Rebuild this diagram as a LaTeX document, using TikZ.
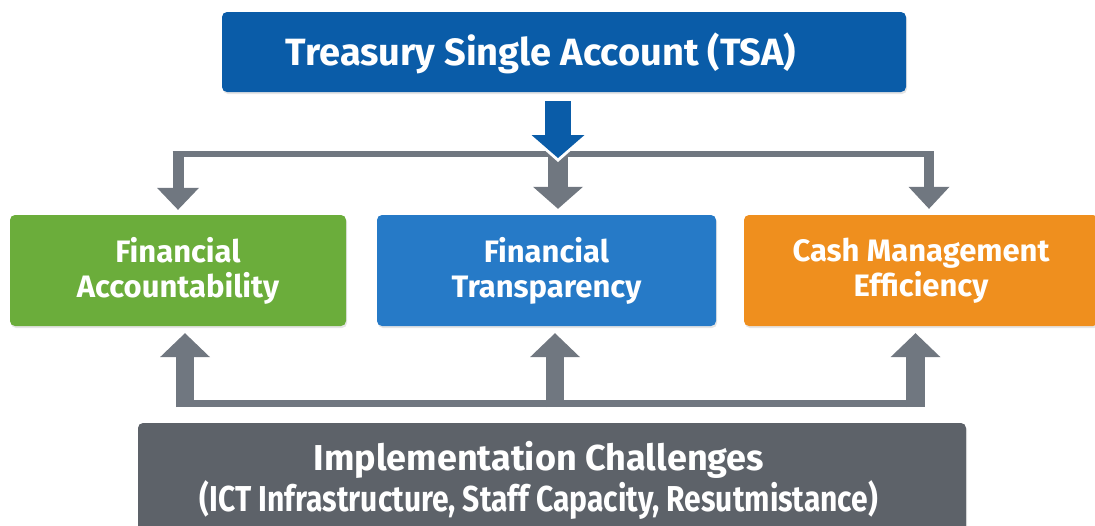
\documentclass[tikz,border=0pt]{standalone}
\usepackage{fontspec}
\setmainfont{Fira Sans}
\newfontfamily\narrowfont[FakeStretch=0.834]{Fira Sans}
\usetikzlibrary{arrows.meta,shadows}

\definecolor{tsablue}{RGB}{10,92,168}
\definecolor{skyblue}{RGB}{38,122,199}
\definecolor{leafgreen}{RGB}{107,173,59}
\definecolor{amber}{RGB}{239,143,30}
\definecolor{slate}{RGB}{93,98,105}
\definecolor{linkgray}{RGB}{112,119,128}

\tikzset{
  box/.style={rectangle, rounded corners=5pt, inner sep=0pt, text=white,
    font=\bfseries\fontsize{31}{35}\selectfont, align=center,
    drop shadow={opacity=0.2, shadow xshift=1pt, shadow yshift=-2pt}},
  title/.style={text=white, inner sep=0pt, align=center,
    font=\bfseries\fontsize{38}{44}\selectfont},
  bar/.style={draw=linkgray, line width=#1},
  feed/.style 2 args={draw=linkgray, line width=#1,
    -{Triangle[width=#2, length=22pt, line width=0pt]}},
  rise/.style={draw=linkgray, line width=#1,
    -{Triangle[width=50pt, length=24pt, line width=0pt]}},
  lead/.style={draw=tsablue, line width=26pt,
    -{Triangle[width=53pt, length=23pt, line width=0pt]}},
  halo/.style={draw=white, line width=30pt,
    -{Triangle[width=61pt, length=27pt, line width=0pt]}}
}

\begin{document}
\begin{tikzpicture}[x=1pt, y=-1pt]
  \useasboundingbox[fill=white] (0,0) rectangle (1095,525);

  \node[box, fill=tsablue, minimum width=684pt, minimum height=80pt] (tsa) at (564,52) {};
  \node[title] (tsatext) at (541,53) {Treasury Single Account (TSA)};

  \begin{scope}[every node/.style={box, minimum height=111pt}]
    \node[fill=leafgreen, minimum width=336pt] (acc)   at (178,270.5) {Financial\\Accountability};
    \node[fill=skyblue,   minimum width=339pt] (trans) at (546.5,270.5) {Financial\\Transparency};
    \node[fill=amber,     minimum width=354pt] (cash)  at (921,270.5) {Cash Management\\Efficiency};
  \end{scope}

  \node[box, fill=slate, minimum width=828pt, minimum height=112pt] (chal) at (552,479) {};
  \node[title, font=\bfseries\fontsize{36}{41}\selectfont] (chaltext) at (539,480)
    {Implementation Challenges\\{\narrowfont (ICT Infrastructure, Staff Capacity, Resutmistance)}};

  \coordinate (split) at (558,154);
  \coordinate (sL) at (178,154);
  \coordinate (sR) at (929,154);
  \coordinate (mL) at (185,403.5);
  \coordinate (mM) at (555,403.5);
  \coordinate (mR) at (915.5,403.5);

  % top fork
  \draw[bar=6pt] ([xshift=-5.5pt]sL) -- ([xshift=5pt]sR);
  \path ([yshift=3pt]sL)    edge[feed={11pt}{42pt}, shorten >=5pt] (sL |- acc.north)
        ([yshift=3pt]split) edge[feed={20pt}{50pt}, shorten >=6pt] (split |- trans.north)
        ([yshift=3pt]sR)    edge[feed={10pt}{41pt}, shorten >=6pt] (sR |- cash.north);

  \draw[halo, shorten <=7pt] (tsa.south -| split) -- ([yshift=-8pt]split);
  \draw[lead, shorten <=9pt] (tsa.south -| split) -- ([yshift=-4pt]split);

  % bottom fork
  \draw[bar=7pt] ([xshift=-9pt]mL) -- ([xshift=9.5pt]mR);
  \path ([yshift=-3.5pt]mL) edge[rise=18pt, shorten >=7pt] (mL |- acc.south)
        ([yshift=-3.5pt]mM) edge[rise=18pt, shorten >=7pt] (mM |- trans.south)
        ([yshift=-3.5pt]mR) edge[rise=19pt, shorten >=7pt] (mR |- cash.south);

\end{tikzpicture}
\end{document}
